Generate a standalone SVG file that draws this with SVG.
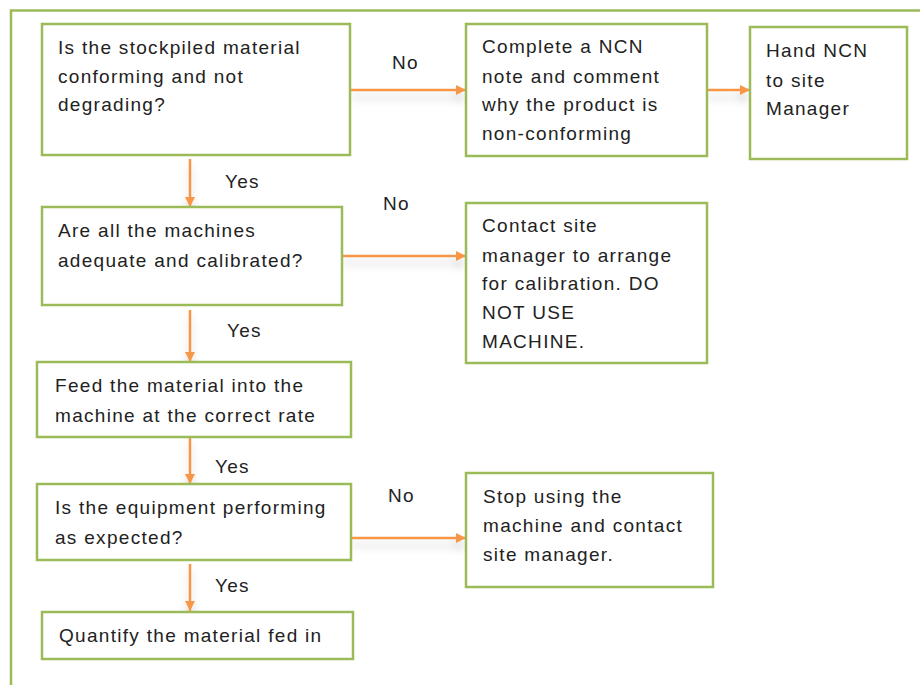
<svg xmlns="http://www.w3.org/2000/svg" width="920" height="685" viewBox="0 0 920 685">
<style>
.box{fill:#fff;stroke:#9bbb59;stroke-width:2.5}
.t{font-family:"Liberation Sans",Arial,sans-serif;font-size:19px;letter-spacing:1.3px;fill:#222}
.c{stroke:#f79646;stroke-width:2.5;fill:none;marker-end:url(#ah)}
</style>
<defs>
<marker id="ah" viewBox="0 0 10 10" refX="10" refY="5" markerWidth="4" markerHeight="4" orient="auto" markerUnits="strokeWidth">
<path d="M0,0 L10,5 L0,10 z" fill="#f79646"/>
</marker>
<filter id="sh" x="-10%" y="-100%" width="120%" height="400%">
<feDropShadow dx="0" dy="7" stdDeviation="4" flood-color="#000" flood-opacity="0.18"/>
</filter>
</defs>
<rect width="920" height="685" fill="#fff"/>
<path d="M11,685 V10.5 H920" fill="none" stroke="#9bbb59" stroke-width="2.5"/>

<g id="connectors" filter="url(#sh)">
<line class="c" x1="350" y1="90" x2="466" y2="90"/>
<line class="c" x1="707" y1="90" x2="750" y2="90"/>
<line class="c" x1="190" y1="159" x2="190" y2="207"/>
<line class="c" x1="342" y1="256" x2="466" y2="256"/>
<line class="c" x1="190" y1="310" x2="190" y2="362"/>
<line class="c" x1="190" y1="437" x2="190" y2="484"/>
<line class="c" x1="351" y1="538" x2="466" y2="538"/>
<line class="c" x1="190" y1="564" x2="190" y2="611"/>
</g>

<g id="labels">
<text class="t" x="392" y="69">No</text>
<text class="t" x="225" y="188">Yes</text>
<text class="t" x="383" y="210">No</text>
<text class="t" x="227" y="337">Yes</text>
<text class="t" x="215" y="473">Yes</text>
<text class="t" x="388" y="502">No</text>
<text class="t" x="215" y="592">Yes</text>
</g>

<g id="n1">
<rect class="box" x="42" y="24" width="308" height="131"/>
<text class="t" x="58" y="54">Is the stockpiled material</text>
<text class="t" x="58" y="83">conforming and not</text>
<text class="t" x="58" y="111">degrading?</text>
</g>
<g id="n2">
<rect class="box" x="466" y="24" width="241" height="132"/>
<text class="t" x="482" y="53">Complete a NCN</text>
<text class="t" x="482" y="83">note and comment</text>
<text class="t" x="482" y="111">why the product is</text>
<text class="t" x="482" y="140">non-conforming</text>
</g>
<g id="n3">
<rect class="box" x="750" y="27" width="157" height="132"/>
<text class="t" x="766" y="57">Hand NCN</text>
<text class="t" x="766" y="87">to site</text>
<text class="t" x="766" y="115">Manager</text>
</g>
<g id="n4">
<rect class="box" x="42" y="207" width="300" height="98"/>
<text class="t" x="58" y="237">Are all the machines</text>
<text class="t" x="58" y="267">adequate and calibrated?</text>
</g>
<g id="n5">
<rect class="box" x="466" y="203" width="241" height="160"/>
<text class="t" x="482" y="232">Contact site</text>
<text class="t" x="482" y="262">manager to arrange</text>
<text class="t" x="482" y="290">for calibration. DO</text>
<text class="t" x="482" y="319">NOT USE</text>
<text class="t" x="482" y="348">MACHINE.</text>
</g>
<g id="n6">
<rect class="box" x="37" y="362" width="314" height="75"/>
<text class="t" x="55" y="392">Feed the material into the</text>
<text class="t" x="55" y="422">machine at the correct rate</text>
</g>
<g id="n7">
<rect class="box" x="37" y="484" width="314" height="76"/>
<text class="t" x="55" y="514">Is the equipment performing</text>
<text class="t" x="55" y="544">as expected?</text>
</g>
<g id="n8">
<rect class="box" x="466" y="473" width="247" height="114"/>
<text class="t" x="483" y="503">Stop using the</text>
<text class="t" x="483" y="532">machine and contact</text>
<text class="t" x="483" y="561">site manager.</text>
</g>
<g id="n9">
<rect class="box" x="42" y="612" width="311" height="47"/>
<text class="t" x="59" y="642">Quantify the material fed in</text>
</g>
</svg>
